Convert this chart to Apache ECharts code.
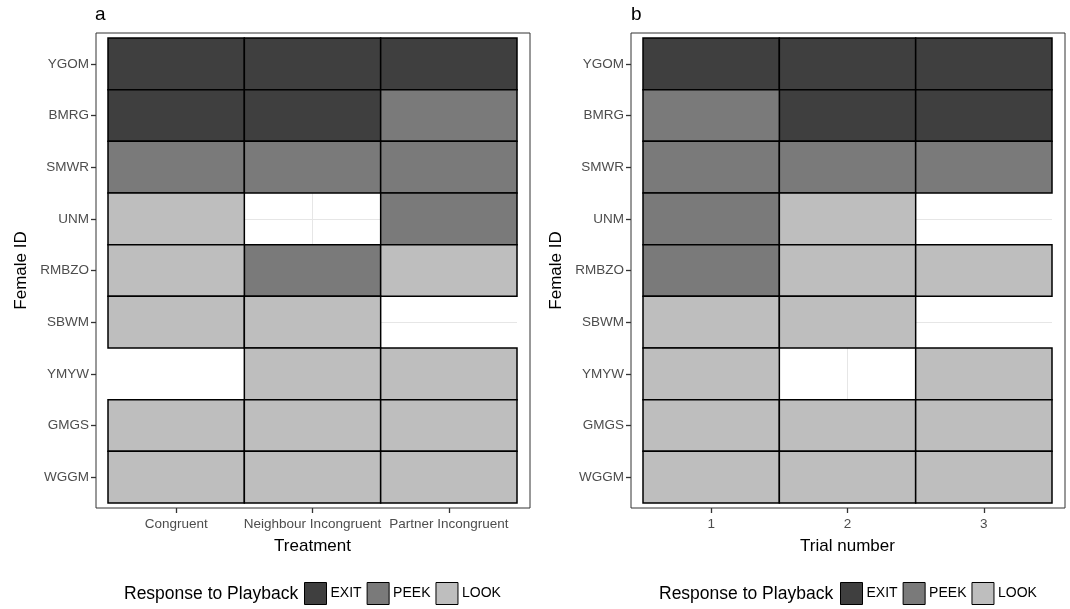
<!DOCTYPE html>
<html>
<head>
<meta charset="utf-8">
<script src="https://cdn.jsdelivr.net/npm/echarts@6/dist/echarts.min.js"></script>
<style>html,body{margin:0;padding:0;background:#fff}#c{width:1070px;height:609px}</style>
</head>
<body>
<div id="c"></div>
<script>
const females = ['YGOM','BMRG','SMWR','UNM','RMBZO','SBWM','YMYW','GMGS','WGGM'];
const treatments = ['Congruent','Neighbour Incongruent','Partner Incongruent'];
const trials = ['1','2','3'];
const responses = ['EXIT','PEEK','LOOK'];
const responseColors = ['#3f3f3f','#7a7a7a','#bebebe'];
// rows follow females, columns follow treatments
const treatmentResp = [
  ['EXIT','EXIT','EXIT'],
  ['EXIT','EXIT','PEEK'],
  ['PEEK','PEEK','PEEK'],
  ['LOOK',null,'PEEK'],
  ['LOOK','PEEK','LOOK'],
  ['LOOK','LOOK',null],
  [null,'LOOK','LOOK'],
  ['LOOK','LOOK','LOOK'],
  ['LOOK','LOOK','LOOK']
];
// rows follow females, columns follow trials
const trialResp = [
  ['EXIT','EXIT','EXIT'],
  ['PEEK','EXIT','EXIT'],
  ['PEEK','PEEK','PEEK'],
  ['PEEK','LOOK',null],
  ['PEEK','LOOK','LOOK'],
  ['LOOK','LOOK',null],
  ['LOOK',null,'LOOK'],
  ['LOOK','LOOK','LOOK'],
  ['LOOK','LOOK','LOOK']
];

const FONT = '"Liberation Sans", Arial, sans-serif';

function renderTile(params, api) {
  const x = api.value(0), y = api.value(1);
  const p1 = api.coord([x - 0.5, y - 0.5]);
  const p2 = api.coord([x + 0.5, y + 0.5]);
  return {
    type: 'rect',
    shape: {
      x: Math.min(p1[0], p2[0]), y: Math.min(p1[1], p2[1]),
      width: Math.abs(p2[0] - p1[0]), height: Math.abs(p2[1] - p1[1])
    },
    style: { fill: api.visual('color'), stroke: '#000', lineWidth: 1.5 }
  };
}

function xAxisFor(idx, cats, name) {
  return {
    type: 'value', gridIndex: idx, min: 0.5, max: cats.length + 0.5, interval: 0.5,
    offset: 5,
    axisLine: { show: false },
    axisTick: { show: true, length: 5, customValues: cats.map((c, i) => i + 1), lineStyle: { color: '#333', width: 1.3 } },
    axisLabel: { customValues: cats.map((c, i) => i + 1), formatter: v => cats[Math.round(v) - 1] || '', color: '#4d4d4d', fontSize: 13.5, fontFamily: FONT, margin: 9 },
    splitLine: { show: true, lineStyle: { color: ['rgba(0,0,0,0)', '#e6e6e6'], width: 1 } },
    name: name, nameLocation: 'middle', nameGap: 30,
    nameTextStyle: { fontSize: 17, color: '#000', fontFamily: FONT }
  };
}
function yAxisFor(idx) {
  return {
    type: 'value', gridIndex: idx, inverse: true, min: 0.5, max: females.length + 0.5, interval: 0.5,
    offset: 12,
    axisLine: { show: false },
    axisTick: { show: true, length: 5, customValues: females.map((c, i) => i + 1), lineStyle: { color: '#333', width: 1.3 } },
    axisLabel: { customValues: females.map((c, i) => i + 1), formatter: v => females[Math.round(v) - 1] || '', color: '#4d4d4d', fontSize: 13.5, fontFamily: FONT, margin: 7 },
    splitLine: { show: true, lineStyle: { color: ['rgba(0,0,0,0)', '#e6e6e6'], width: 1 } },
    name: 'Female ID', nameLocation: 'middle', nameGap: 66,
    nameTextStyle: { fontSize: 17, color: '#000', fontFamily: FONT }
  };
}

const series = [];
[treatmentResp, trialResp].forEach((mat, p) => {
  responses.forEach((r, ri) => {
    const data = [];
    mat.forEach((row, yi) => row.forEach((v, xi) => { if (v === r) data.push([xi + 1, yi + 1]); }));
    series.push({
      type: 'custom', name: r, xAxisIndex: p, yAxisIndex: p,
      itemStyle: { color: responseColors[ri] },
      renderItem: renderTile, data: data, z: 3
    });
  });
});

function legendFor(left) {
  return {
    left: left, top: 582, padding: 0, orient: 'horizontal', data: responses, selectedMode: false,
    icon: 'rect', itemWidth: 22, itemHeight: 22, itemGap: 5,
    itemStyle: { borderColor: '#000', borderWidth: 1 },
    textStyle: { fontSize: 14, color: '#000', fontFamily: FONT, padding: [0, 0, 0, -1] }
  };
}

const option = {
  animation: false,
  backgroundColor: '#fff',
  grid: [
    { left: 108, right: 553, top: 38, bottom: 106 },
    { left: 643, right: 18, top: 38, bottom: 106 }
  ],
  xAxis: [xAxisFor(0, treatments, 'Treatment'), xAxisFor(1, trials, 'Trial number')],
  yAxis: [yAxisFor(0), yAxisFor(1)],
  legend: [legendFor(304), legendFor(840)],
  graphic: [
    { type: 'rect', shape: { x: 96, y: 33, width: 434, height: 475 }, style: { fill: null, stroke: '#333', lineWidth: 1 }, z: 10, silent: true },
    { type: 'rect', shape: { x: 631, y: 33, width: 434, height: 475 }, style: { fill: null, stroke: '#333', lineWidth: 1 }, z: 10, silent: true },
    { type: 'text', x: 95, y: 5, style: { text: 'a', fontSize: 19, fill: '#000', fontFamily: FONT } },
    { type: 'text', x: 631, y: 5, style: { text: 'b', fontSize: 19, fill: '#000', fontFamily: FONT } },
    { type: 'text', x: 124, y: 594, style: { text: 'Response to Playback', fontSize: 17.5, fill: '#000', fontFamily: FONT, verticalAlign: 'middle' } },
    { type: 'text', x: 659, y: 594, style: { text: 'Response to Playback', fontSize: 17.5, fill: '#000', fontFamily: FONT, verticalAlign: 'middle' } }
  ],
  series: series
};

const chart = echarts.init(document.getElementById('c'), null, { renderer: 'canvas' });
chart.setOption(option);
</script>
</body>
</html>
